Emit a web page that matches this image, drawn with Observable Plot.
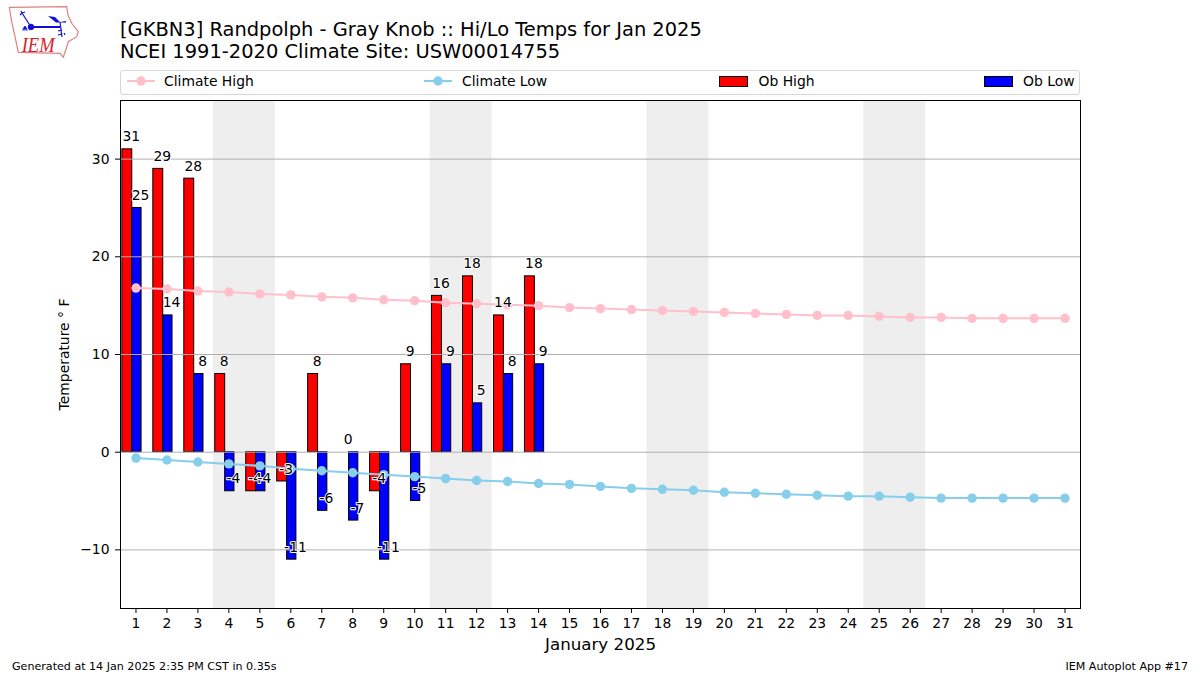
<!DOCTYPE html>
<html>
<head>
<meta charset="utf-8">
<script src="https://cdn.jsdelivr.net/npm/d3@7"></script>
<script src="https://cdn.jsdelivr.net/npm/@observablehq/plot@0.6"></script>
<style>
  html, body { margin: 0; padding: 0; background: #fff; }
  body { width: 1200px; height: 675px; overflow: hidden; font-family: "DejaVu Sans", sans-serif; color: #000; }
  #header { position: relative; height: 99px; }
  #logo { position: absolute; left: 8px; top: 5px; }
  #title { position: absolute; left: 120px; top: 18.5px; font-size: 19.45px; line-height: 22px; white-space: nowrap; }
  #legend { position: absolute; left: 120px; top: 70px; width: 958px; height: 23px; border: 1px solid #d6d6d6; border-radius: 3px; font-size: 13.9px; }
  .entry { position: absolute; top: 0; height: 23px; line-height: 21px; white-space: nowrap; }
  .entry svg { position: absolute; left: 0; top: 0; }
  .entry span { position: absolute; }
  #footer { position: relative; height: 18px; font-size: 11.1px; line-height: 19px; }
  #footer span { position: absolute; top: 0; white-space: nowrap; }
  #chart svg { display: block; }
</style>
</head>
<body>
<div id="header">
  <svg id="logo" width="72" height="54" viewBox="0 0 72 54">
    <path d="M1.3 2.3 L58.7 1.7 L60 10 L63.7 18.3 L70.3 26.7 L68.7 31.7 L60.3 36.7 L58 44.3 L55.3 52.3 L52 48.3 L10.3 47.3 L7 31.7 L3.7 16.7 Z" fill="none" stroke="#e08080" stroke-width="1.2"/>
    <g stroke="#1010d8" fill="#1010d8">
      <path d="M23 22 L52 22" stroke-width="2" fill="none"/>
      <circle cx="23" cy="22" r="2.8"/>
      <path d="M23 22 L14 8 M14 8 L12 10 M14 8 L13 6 M14 8 L17 7" stroke-width="1.2" fill="none"/>
      <path d="M40 11 L47 12 L52 17 L58 16 L58 17.5 L48 17.5 Z" stroke="none"/>
      <path d="M52 17 L54 32 M50 26 L54 25 M50 30 L54 29 M56 28 L57 30" stroke-width="1.2" fill="none"/>
      <path d="M15 24 L17 21 L19 24 Z M14 25 h6" stroke-width="0.8"/>
    </g>
    <text x="13.7" y="46.7" font-family="Liberation Serif" font-style="italic" font-size="21" textLength="33" lengthAdjust="spacingAndGlyphs" fill="#d8232a">IEM</text>
  </svg>
  <div id="title">[GKBN3] Randpolph - Gray Knob :: Hi/Lo Temps for Jan 2025<br>NCEI 1991-2020 Climate Site: USW00014755</div>
  <div id="legend"></div>
</div>
<div id="chart"></div>
<div id="footer"><span style="left:12px">Generated at 14 Jan 2025 2:35 PM CST in 0.35s</span><span style="right:12px">IEM Autoplot App #17</span></div>
<script>
const days = d3.range(1, 32);
const obHigh = [31, 29, 28, 8, -4, -3, 8, 0, -4, 9, 16, 18, 14, 18];
const obLow = [25, 14, 8, -4, -4, -11, -6, -7, -11, -5, 9, 5, 8, 9];
const climateHigh = [16.8, 16.7, 16.5, 16.4, 16.2, 16.1, 15.9, 15.8, 15.6, 15.5, 15.3, 15.2, 15.1, 15.0, 14.8, 14.7, 14.6, 14.5, 14.4, 14.3, 14.2, 14.1, 14.0, 14.0, 13.9, 13.8, 13.8, 13.7, 13.7, 13.7, 13.7];
const climateLow = [-0.6, -0.8, -1.0, -1.2, -1.4, -1.7, -1.9, -2.1, -2.3, -2.5, -2.7, -2.9, -3.0, -3.2, -3.3, -3.5, -3.7, -3.8, -3.9, -4.1, -4.2, -4.3, -4.4, -4.5, -4.5, -4.6, -4.7, -4.7, -4.7, -4.7, -4.7];
const weekendSpans = [[3.5, 5.5], [10.5, 12.5], [17.5, 19.5], [24.5, 26.5]];
const yTicks = [-10, 0, 10, 20, 30];

const highRows = obHigh.map((v, i) => ({day: i + 1, v}));
const lowRows = obLow.map((v, i) => ({day: i + 1, v}));
const climHighRows = days.map((d, i) => ({day: d, v: climateHigh[i]}));
const climLowRows = days.map((d, i) => ({day: d, v: climateLow[i]}));

const labelStyle = {
  text: d => String(d.v),
  y: "v",
  fontSize: 13.9,
  fill: "black",
  lineAnchor: "bottom",
  dy: -8,
  stroke: "white",
  strokeWidth: 2,
  paintOrder: "stroke"
};

const plot = Plot.plot({
  width: 1200,
  height: 558,
  marginLeft: 120,
  marginRight: 120,
  marginTop: 1,
  marginBottom: 49,
  style: {fontFamily: "'DejaVu Sans', sans-serif", fontSize: "13.9px", background: "white", color: "black"},
  x: {type: "linear", domain: [0.5, 31.5], range: [120, 1080]},
  y: {domain: [-16, 36]},
  marks: [
    Plot.rect(weekendSpans, {x1: d => d[0], x2: d => d[1], y1: -16, y2: 36, fill: "#eeeeee"}),
    Plot.rect(highRows, {x1: d => d.day - 0.44, x2: d => d.day - 0.12, y1: 0, y2: "v", fill: "#ff0000", stroke: "black", strokeWidth: 1}),
    Plot.rect(lowRows, {x1: d => d.day - 0.12, x2: d => d.day + 0.18, y1: 0, y2: "v", fill: "#0000ff", stroke: "black", strokeWidth: 1}),
    Plot.ruleY(yTicks, {stroke: "#b0b0b0", strokeWidth: 1}),
    Plot.line(climHighRows, {x: "day", y: "v", stroke: "#ffc0cb", strokeWidth: 2}),
    Plot.dot(climHighRows, {x: "day", y: "v", r: 4.7, fill: "#ffc0cb"}),
    Plot.line(climLowRows, {x: "day", y: "v", stroke: "#87ceeb", strokeWidth: 2}),
    Plot.dot(climLowRows, {x: "day", y: "v", r: 4.7, fill: "#87ceeb"}),
    Plot.text(highRows, {...labelStyle, x: d => d.day - 0.15}),
    Plot.text(lowRows, {...labelStyle, x: d => d.day + 0.15}),
    Plot.frame({stroke: "black", strokeWidth: 1}),
    Plot.axisX({ticks: days, tickFormat: d => String(d), tickSize: 5, tickPadding: 5, fontSize: 13.9, label: null}),
    Plot.axisY({ticks: yTicks, tickSize: 5, tickPadding: 6, fontSize: 13.9, label: null}),
    Plot.text(["January 2025"], {frameAnchor: "bottom", dy: 41, fontSize: 16.7, fill: "black"}),
    Plot.text(["Temperature \u00b0 F"], {frameAnchor: "left", textAnchor: "middle", dx: -56, rotate: -90, fontSize: 13.9, fill: "black"})
  ]
});
document.getElementById("chart").append(plot);

const legendEntries = [
  {name: "Climate High", kind: "line", color: "#ffc0cb", x: 6, tx: 37},
  {name: "Climate Low", kind: "line", color: "#87ceeb", x: 303, tx: 38},
  {name: "Ob High", kind: "bar", color: "#ff0000", x: 598, tx: 39.5},
  {name: "Ob Low", kind: "bar", color: "#0000ff", x: 863, tx: 39}
];
const legend = document.getElementById("legend");
for (const e of legendEntries) {
  const g = e.kind === "line"
    ? `<line x1="0" x2="28" y1="10" y2="10" stroke="${e.color}" stroke-width="2"/><circle cx="14" cy="10" r="4.7" fill="${e.color}"/>`
    : `<rect x="0.5" y="5.5" width="28" height="10" fill="${e.color}" stroke="black"/>`;
  const div = document.createElement("div");
  div.className = "entry";
  div.style.left = e.x + "px";
  div.innerHTML = `<svg width="30" height="23">${g}</svg><span style="left:${e.tx}px">${e.name}</span>`;
  legend.append(div);
}
</script>
</body>
</html>
